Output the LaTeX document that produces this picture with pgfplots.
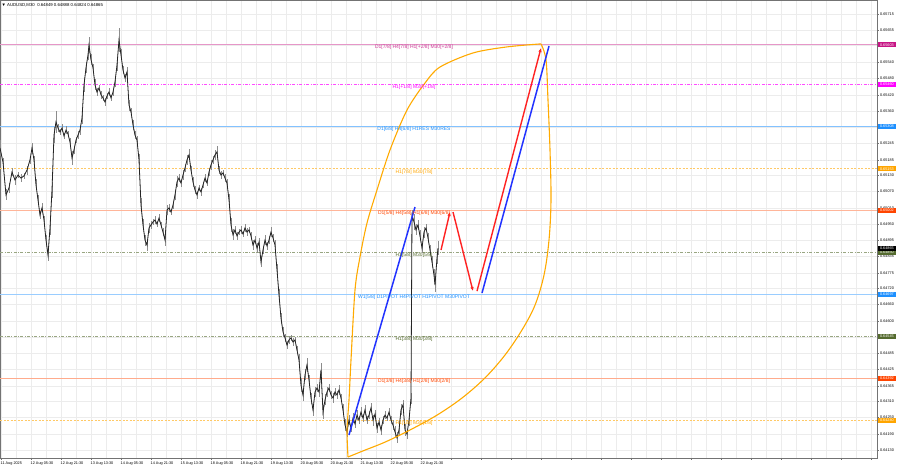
\documentclass[border=0pt]{standalone}
\usepackage{fontspec}
\setmainfont{Liberation Sans}
\usepackage{pgfplots}
\usepackage{pgfplotstable}
\pgfplotsset{compat=1.18}
\usetikzlibrary{arrows.meta,calc}
\definecolor{mvr}{HTML}{C71585}
\definecolor{mag}{HTML}{FF00FF}
\definecolor{dblue}{HTML}{1E90FF}
\definecolor{orng}{HTML}{FFA500}
\definecolor{ored}{HTML}{FF4500}
\definecolor{olv}{HTML}{556B2F}
\definecolor{gridc}{HTML}{ECECEC}
\definecolor{arcc}{HTML}{FFAA00}
\definecolor{bl}{HTML}{2233FF}
\definecolor{rd}{HTML}{FF2222}

\pgfplotstableread{
x c e
0 0.65228 0.00030
3 0.65177 0.00015
6 0.65058 0.00020
9 0.65083 0.00018
12 0.65141 0.00015
15 0.65112 0.00018
18 0.65130 0.00012
21 0.65119 0.00015
24 0.65127 0.00012
27 0.65148 0.00016
30 0.65185 0.00015
32 0.65228 0.00020
34 0.65185 0.00015
36 0.65094 0.00020
38 0.65040 0.00018
40 0.64985 0.00015
42 0.65011 0.00018
44 0.64967 0.00015
46 0.64894 0.00020
48 0.64840 0.00022
50 0.64938 0.00025
52 0.65076 0.00030
54 0.65275 0.00030
56 0.65323 0.00040
58 0.65301 0.00015
60 0.65286 0.00012
62 0.65301 0.00015
64 0.65272 0.00012
66 0.65293 0.00015
68 0.65279 0.00012
70 0.65250 0.00015
72 0.65192 0.00025
74 0.65221 0.00015
76 0.65257 0.00012
78 0.65275 0.00015
80 0.65293 0.00018
82 0.65337 0.00020
84 0.65457 0.00025
86 0.65519 0.00020
88 0.65566 0.00020
89 0.65602 0.00030
91 0.65548 0.00020
93 0.65519 0.00015
95 0.65457 0.00020
97 0.65431 0.00015
99 0.65446 0.00012
101 0.65421 0.00015
103 0.65410 0.00012
105 0.65395 0.00015
107 0.65417 0.00012
109 0.65431 0.00015
111 0.65410 0.00012
113 0.65431 0.00015
115 0.65468 0.00020
117 0.65529 0.00020
119 0.65620 0.00045
121 0.65566 0.00020
123 0.65511 0.00015
125 0.65482 0.00015
127 0.65504 0.00018
129 0.65384 0.00020
131 0.65359 0.00015
133 0.65312 0.00018
135 0.65275 0.00015
137 0.65257 0.00015
139 0.65185 0.00020
141 0.65021 0.00025
143 0.64949 0.00020
145 0.64894 0.00020
147 0.64876 0.00022
149 0.64938 0.00018
151 0.64949 0.00015
153 0.64960 0.00012
155 0.64967 0.00015
157 0.64952 0.00012
159 0.64974 0.00015
161 0.64949 0.00012
163 0.64923 0.00015
165 0.64894 0.00020
167 0.65003 0.00018
169 0.65011 0.00015
171 0.64996 0.00012
173 0.65021 0.00015
175 0.65058 0.00018
177 0.65105 0.00020
179 0.65119 0.00015
181 0.65101 0.00015
183 0.65130 0.00018
185 0.65156 0.00015
187 0.65185 0.00018
189 0.65203 0.00020
191 0.65148 0.00015
193 0.65105 0.00018
195 0.65076 0.00015
197 0.65058 0.00015
199 0.65083 0.00012
201 0.65069 0.00015
203 0.65094 0.00012
205 0.65119 0.00015
207 0.65101 0.00012
209 0.65141 0.00015
211 0.65167 0.00018
213 0.65185 0.00015
215 0.65203 0.00018
217 0.65214 0.00020
219 0.65148 0.00015
221 0.65130 0.00015
223 0.65138 0.00012
225 0.65119 0.00015
227 0.65101 0.00015
229 0.65040 0.00020
231 0.64949 0.00025
233 0.64913 0.00020
235 0.64931 0.00015
237 0.64909 0.00015
239 0.64923 0.00012
241 0.64931 0.00015
243 0.64916 0.00012
245 0.64938 0.00015
247 0.64923 0.00015
249 0.64931 0.00012
251 0.64909 0.00015
253 0.64876 0.00018
255 0.64894 0.00015
257 0.64865 0.00018
259 0.64887 0.00015
261 0.64815 0.00020
263 0.64858 0.00015
265 0.64894 0.00018
267 0.64873 0.00015
269 0.64894 0.00015
271 0.64923 0.00018
273 0.64902 0.00015
275 0.64876 0.00018
277 0.64786 0.00020
279 0.64695 0.00020
281 0.64611 0.00020
283 0.64561 0.00018
285 0.64539 0.00015
287 0.64513 0.00015
289 0.64532 0.00015
291 0.64539 0.00012
293 0.64524 0.00015
295 0.64532 0.00012
297 0.64495 0.00015
299 0.64459 0.00020
301 0.64368 0.00025
303 0.64332 0.00022
305 0.64405 0.00020
307 0.64441 0.00025
309 0.64386 0.00020
311 0.64321 0.00020
313 0.64278 0.00022
315 0.64343 0.00018
317 0.64357 0.00015
319 0.64343 0.00018
321 0.64423 0.00025
323 0.64270 0.00025
325 0.64314 0.00020
327 0.64343 0.00018
329 0.64357 0.00015
331 0.64332 0.00015
333 0.64321 0.00018
335 0.64343 0.00015
337 0.64332 0.00015
339 0.64350 0.00018
341 0.64321 0.00015
343 0.64278 0.00020
345 0.64223 0.00022
347 0.64198 0.00020
349 0.64241 0.00018
351 0.64212 0.00015
353 0.64248 0.00018
355 0.64227 0.00015
357 0.64259 0.00018
359 0.64241 0.00015
361 0.64270 0.00018
363 0.64248 0.00015
365 0.64278 0.00018
367 0.64241 0.00015
369 0.64259 0.00015
371 0.64285 0.00018
373 0.64241 0.00020
375 0.64263 0.00015
377 0.64212 0.00018
379 0.64234 0.00015
381 0.64205 0.00018
383 0.64241 0.00015
385 0.64259 0.00015
387 0.64248 0.00012
389 0.64270 0.00015
391 0.64241 0.00015
393 0.64223 0.00018
395 0.64198 0.00020
397 0.64176 0.00020
399 0.64205 0.00018
401 0.64278 0.00020
403 0.64296 0.00018
405 0.64205 0.00020
407 0.64190 0.00018
409 0.64241 0.00020
411 0.64321 0.00020
412 0.64985 0.00020
414 0.64960 0.00030
416 0.64931 0.00020
418 0.64949 0.00018
420 0.64909 0.00020
422 0.64865 0.00018
424 0.64923 0.00020
426 0.64938 0.00015
428 0.64902 0.00018
430 0.64858 0.00018
432 0.64815 0.00020
434 0.64767 0.00022
435 0.64731 0.00025
437 0.64829 0.00020
438 0.64865 0.00025
}\price

\newcommand{\axf}{\fontsize{3.8}{4.5}\selectfont}
\newcommand{\lvf}{\fontsize{5}{6}\selectfont}

\begin{document}
\begin{tikzpicture}[x=1pt,y=1pt]
\begin{axis}[
  scale only axis, width=877pt, height=458pt,
  xmin=0, xmax=877, ymin=0.641034, ymax=0.657652,
  clip=false,
  axis line style={draw=black!55, line width=0.7pt},
  xtick={1,31,...,871},
  xticklabels={11 Aug 2025,12 Aug 05:30,12 Aug 21:30,13 Aug 13:30,14 Aug 05:30,14 Aug 21:30,15 Aug 13:30,18 Aug 05:30,18 Aug 21:30,19 Aug 13:30,20 Aug 05:30,20 Aug 21:30,21 Aug 13:30,22 Aug 05:30,22 Aug 21:30,,,,,,,,,,,,,,,},
  minor x tick num=1,
  xtick pos=lower, ytick pos=right,
  tick align=outside,
  major tick length=2pt, minor tick length=0pt,
  tick style={black!55, line width=0.4pt},
  xticklabel style={font=\axf, anchor=north west, inner sep=0pt, yshift=-1.2pt, xshift=-0.5pt},
  ytick={0.64130,0.64190,0.64250,0.64310,0.64365,0.64425,0.64485,0.64540,0.64600,0.64660,0.64720,0.64775,0.64835,0.64895,0.64950,0.65010,0.65070,0.65130,0.65185,0.65245,0.65305,0.65360,0.65420,0.65480,0.65540,0.65600,0.65655,0.65715},
  scaled y ticks=false,
  yticklabel style={font=\axf, anchor=west, inner sep=0pt, xshift=1pt,
    /pgf/number format/.cd, fixed, fixed zerofill, precision=5, assume math mode=true},
  grid=both,
  major grid style={gridc, line width=0.4pt},
  minor grid style={gridc, line width=0.4pt},
]
\coordinate (bl) at (rel axis cs:0,0);
% level lines
\addplot[mvr!45, line width=0.6pt] coordinates {(0,0.65603) (877,0.65603)};
\addplot[mag!70, line width=0.5pt, dash pattern=on 3pt off 1.5pt on 0.8pt off 1.5pt] coordinates {(0,0.65460) (877,0.65460)};
\addplot[dblue!55, line width=0.6pt] coordinates {(0,0.65308) (877,0.65308)};
\addplot[orng!60, line width=0.5pt, dash pattern=on 2pt off 1.5pt] coordinates {(0,0.65153) (877,0.65153)};
\addplot[ored!40, line width=0.6pt] coordinates {(0,0.65002) (877,0.65002)};
\addplot[olv!60, line width=0.5pt, dash pattern=on 3pt off 1.5pt on 0.8pt off 1.5pt] coordinates {(0,0.64850) (877,0.64850)};
\addplot[dblue!45, line width=0.6pt] coordinates {(0,0.64697) (877,0.64697)};
\addplot[olv!60, line width=0.5pt, dash pattern=on 3pt off 1.5pt on 0.8pt off 1.5pt] coordinates {(0,0.64545) (877,0.64545)};
\addplot[ored!45, line width=0.6pt] coordinates {(0,0.64392) (877,0.64392)};
\addplot[orng!60, line width=0.5pt, dash pattern=on 2pt off 1.5pt] coordinates {(0,0.64240) (877,0.64240)};

% price
\addplot[black!45, line width=0.3pt, mark=none,
  error bars/.cd, y dir=both, y explicit, error mark=none,
  error bar style={black!45, line width=0.45pt}]
  table[x=x, y=c, y error=e] {\price};
\addplot[black!85, line width=0.8pt, mark=none] table[x=x, y=c] {\price};

% arc
\addplot[arcc, line width=1.1pt, smooth, tension=0.5] coordinates {
(348,0.64107) (347,0.64205) (349,0.64314) (351,0.64459) (355,0.64713) (360,0.64833) (367,0.64956) (377,0.65076) (390,0.65221) (407,0.65366) (425,0.65464) (440,0.65522) (473,0.65573) (507,0.65595) (541,0.65606)};
\addplot[arcc, line width=1.1pt, smooth, tension=0.55] coordinates {
(541,0.65606) (546,0.65548) (548,0.65402) (550,0.65221) (551,0.65040) (549,0.64894) (544,0.64767) (535,0.64658) (522,0.64568) (505,0.64477) (485,0.64394) (462,0.64321) (437,0.64259) (410,0.64205) (385,0.64161) (365,0.64132) (348,0.64107)};

% blue lines
\addplot[bl, line width=1.5pt] coordinates {(349,0.64187) (415,0.65014)};
\addplot[bl, line width=1.5pt] coordinates {(482,0.64702) (549,0.65598)};
% red arrows
\addplot[rd, line width=1.4pt, -{Latex[length=4pt,width=3.5pt]}] coordinates {(441,0.64858) (450,0.64996)};
\addplot[rd, line width=1.4pt, -{Latex[length=4pt,width=3.5pt]}] coordinates {(453,0.64996) (473,0.64709)};
\addplot[rd, line width=1.4pt, -{Latex[length=4pt,width=3.5pt]}] coordinates {(477,0.64709) (541,0.65591)};

% level labels
\begin{scope}[every node/.style={font=\lvf, inner sep=0pt, yshift=-3pt}]
\node[text=mvr!85] at (axis cs:414,0.65603) {D1[7/8] H4[7/8] H1[+2/8] M30[+2/8]};
\node[text=mag] at (axis cs:414,0.65460) {H1[+1/8] M30[+1/8]};
\node[text=dblue] at (axis cs:414,0.65308) {D1[6/8] H4[6/8] H1RES M30RES};
\node[text=orng] at (axis cs:414,0.65153) {H1[7/8] M30[7/8]};
\node[text=ored] at (axis cs:414,0.65002) {D1[5/8] H4[5/8] H1[6/8] M30[6/8]};
\node[text=olv] at (axis cs:414,0.64850) {H1[5/8] M30[5/8]};
\node[text=dblue] at (axis cs:414,0.64697) {W1[5/8] D1PIVOT H4PIVOT H1PIVOT M30PIVOT};
\node[text=olv] at (axis cs:414,0.64545) {H1[3/8] M30[3/8]};
\node[text=ored] at (axis cs:414,0.64392) {D1[3/8] H4[3/8] H1[2/8] M30[2/8]};
\node[text=orng] at (axis cs:414,0.64240) {H1[1/8] M30[1/8]};
\end{scope}

% price boxes
\begin{scope}[every node/.style={font=\axf, text=white, anchor=west, inner xsep=2pt, inner ysep=0pt, minimum height=5pt, xshift=0.8pt}]
\node[fill=mvr] at (axis cs:877,0.65603) {0.65603};
\node[fill=mag] at (axis cs:877,0.65460) {0.65460};
\node[fill=dblue] at (axis cs:877,0.65308) {0.65308};
\node[fill=orng] at (axis cs:877,0.65153) {0.65153};
\node[fill=ored] at (axis cs:877,0.65002) {0.65002};
\node[fill=olv] at (axis cs:877,0.64850) {0.64850};
\node[fill=black] at (axis cs:877,0.64865) {0.64865};
\node[fill=dblue] at (axis cs:877,0.64697) {0.64697};
\node[fill=olv] at (axis cs:877,0.64545) {0.64545};
\node[fill=ored] at (axis cs:877,0.64392) {0.64392};
\node[fill=orng] at (axis cs:877,0.64240) {0.64240};
\end{scope}

% title
\node[anchor=west, font=\fontsize{4.3}{5}\selectfont, inner sep=0pt] at (axis cs:1.5,0.65745) {▼ AUDUSD,M30 \ 0.64849 0.64888 0.64824 0.64865};
\end{axis}
\pgfresetboundingbox
\path[use as bounding box] ($(bl)+(0,-10)$) rectangle ($(bl)+(900,458)$);
\end{tikzpicture}
\end{document}
